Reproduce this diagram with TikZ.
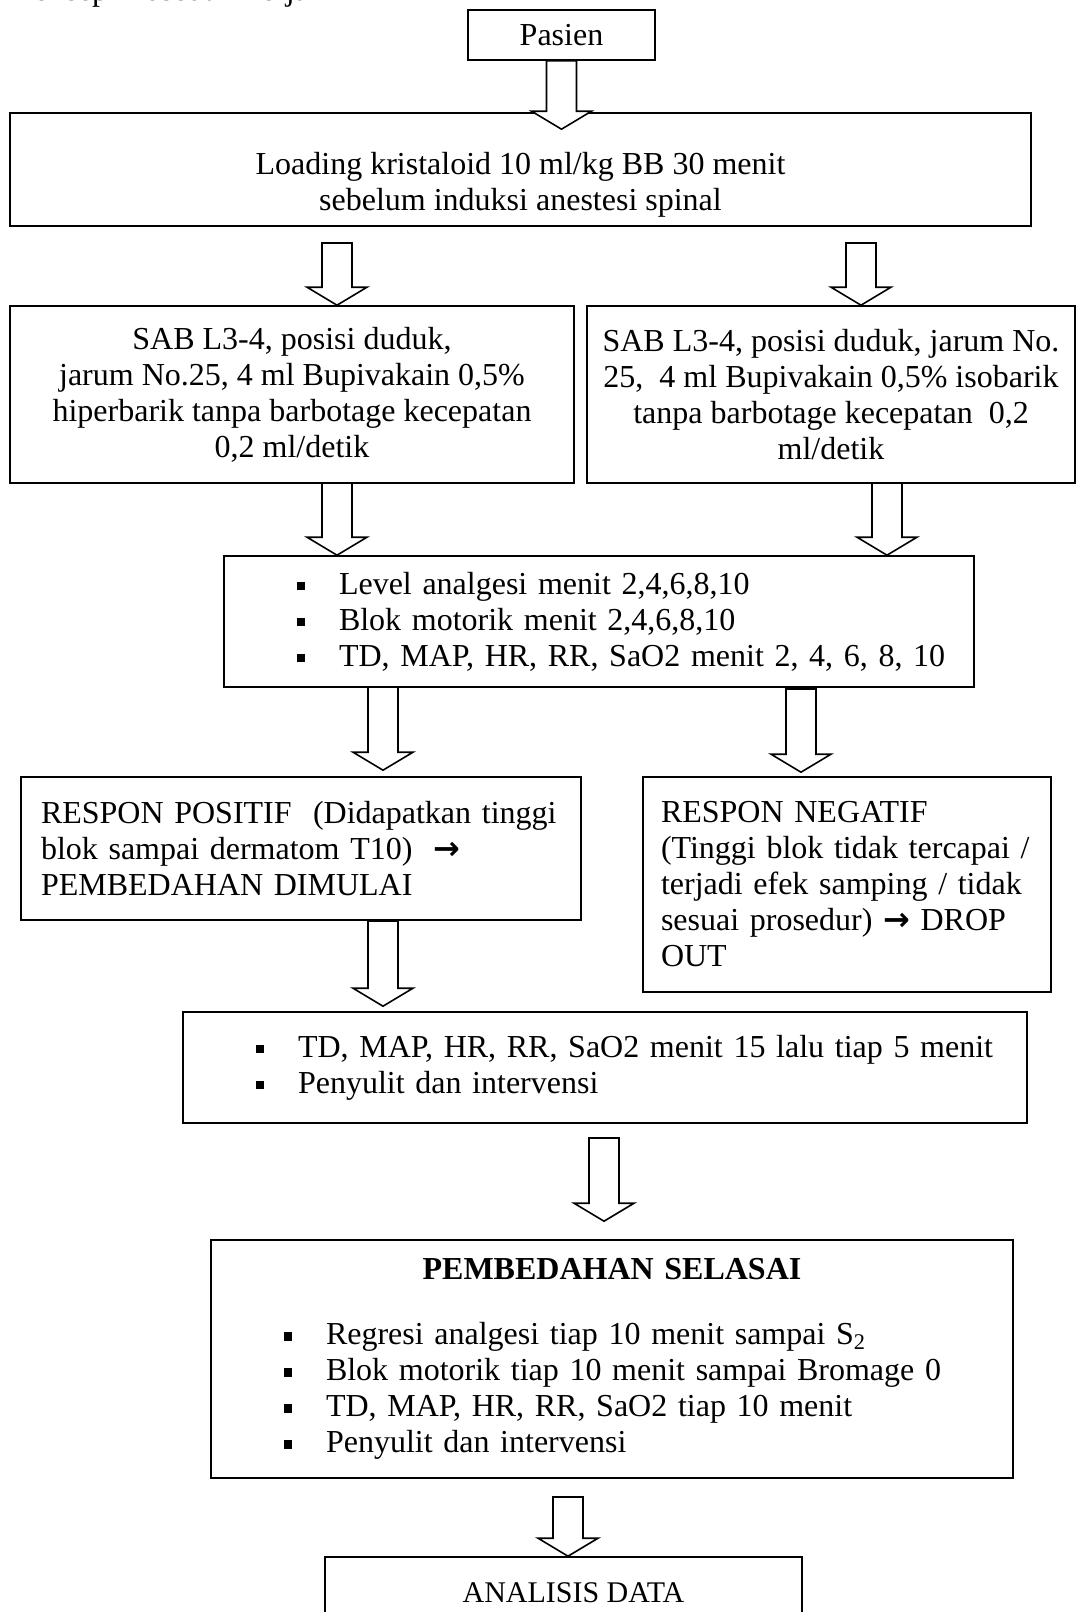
\documentclass[tikz,border=0pt]{standalone}
\usepackage{fontspec}
\setmainfont{Liberation Serif}
\newfontfamily\symfont{DejaVu Sans}
\usepackage{tikz}
\usetikzlibrary{calc}

\newcommand{\itm}{\hspace*{32.5pt}\makebox[21pt][l]{\rule[2pt]{4.2pt}{4.2pt}}}
\newcommand{\rarr}{{\symfont\bfseries →}}

\begin{document}
\begin{tikzpicture}[
      x=0.5pt, y=-0.5pt,
      box/.style={draw, line width=0.8pt, fill=white, inner sep=0pt,
        font=\fontsize{16}{18}\selectfont},
      midbox/.style={box, align=center},
      listbox/.style={box, align=left, inner xsep=4pt},
      blockarrow/.style={draw, line width=0.8pt, fill=white,
        to path={let \p1=(\tikztostart), \p2=(\tikztotarget) in
          (\x1-7.5pt,\y1) -- (\x1-7.5pt,\y2+9pt) -- (\x1-15pt,\y2+9pt)
          -- (\x1,\y2) -- (\x1+15pt,\y2+9pt) -- (\x1+7.5pt,\y2+9pt)
          -- (\x1+7.5pt,\y1) -- cycle}}
    ]
    \useasboundingbox (0,0) rectangle (1084,1612);

    \node[anchor=base west, inner sep=0pt, font=\fontsize{16}{18}\selectfont]
      (judul) at (10,0) {Konsep Prosedur Kerja};

    \node[midbox, minimum width=93.5pt, minimum height=25pt]
      (pasien) at (561.5,35) {Pasien};
    \node[midbox, minimum width=510.5pt, minimum height=56.5pt]
      (loading) at (520.5,169.5)
      {\rule{0pt}{26pt}Loading kristaloid 10 ml/kg BB 30 menit\\
       sebelum induksi anestesi spinal};

    \node[midbox, minimum width=282pt, minimum height=88.5pt]
      (sabl) at (292,394.5)
      {SAB L3-4, posisi duduk,\\
       jarum No.25, 4 ml Bupivakain 0,5\%\\
       hiperbarik tanpa barbotage kecepatan\\
       0,2 ml/detik};
    \node[midbox, minimum width=244pt, minimum height=88.5pt]
      (sabr) at (831,394.5)
      {SAB L3-4, posisi duduk, jarum No.\\
       25,~ 4 ml Bupivakain 0,5\% isobarik\\
       tanpa barbotage kecepatan~ 0,2\\
       ml/detik};

    \node[listbox, text width=367pt, minimum height=65.5pt]
      (mon1) at (599,621.5)
      {\itm Level analgesi menit 2,4,6,8,10\\
       \itm Blok motorik menit 2,4,6,8,10\\
       \itm TD, MAP, HR, RR, SaO2 menit 2, 4, 6, 8, 10};

    \node[box, align=left, inner xsep=10pt, text width=260pt,
      minimum height=71.5pt]
      (pos) at (301,848.5)
      {RESPON POSITIF~ (Didapatkan tinggi\\
       blok sampai dermatom T10)~~\rarr\\
       PEMBEDAHAN DIMULAI};
    \node[box, align=left, inner xsep=9pt, text width=186pt,
      minimum height=107.5pt]
      (neg) at (847,884.5)
      {RESPON NEGATIF\\
       (Tinggi blok tidak tercapai /\\
       terjadi efek samping / tidak\\
       sesuai prosedur) \rarr{} DROP\\
       OUT};

    \node[listbox, text width=414pt, minimum height=55.5pt]
      (mon2) at (605,1067.5)
      {\itm TD, MAP, HR, RR, SaO2 menit 15 lalu tiap 5 menit\\
       \itm Penyulit dan intervensi};

    \node[listbox, text width=393pt, minimum height=119pt]
      (mon3) at (612,1359)
      {\makebox[393pt]{\bfseries PEMBEDAHAN SELASAI}\\[14.5pt]
       \itm Regresi analgesi tiap 10 menit sampai S\textsubscript{2}\\
       \itm Blok motorik tiap 10 menit sampai Bromage 0\\
       \itm TD, MAP, HR, RR, SaO2 tiap 10 menit\\
       \itm Penyulit dan intervensi};

    \node[midbox, minimum width=238.5pt, minimum height=36pt,
      font=\fontsize{15}{18}\selectfont]
      (analisis) at (563.5,1593) {\hspace*{10pt}ANALISIS DATA};

    \coordinate (a2l) at (337,243);
    \coordinate (a2r) at (861,243);
    \coordinate (a3l) at (337,483);
    \coordinate (a3r) at (887,483);
    \coordinate (a4l) at (383,687);
    \coordinate (a4r) at (801,689);
    \coordinate (a5) at (383,921);
    \coordinate (a6) at (604,1138);
    \coordinate (a7) at (568,1497);

    \draw[blockarrow] (pasien.south) to ([yshift=-8.5pt]loading.north);
    \draw[blockarrow] (a2l) to (sabl.north);
    \draw[blockarrow] (a2r) to (sabr.north);
    \draw[blockarrow] (a3l) to (mon1.north);
    \draw[blockarrow] (a3r) to (mon1.north);
    \draw[blockarrow] (a4l) to ([yshift=3pt]pos.north);
    \draw[blockarrow] (a4r) to ([yshift=2pt]neg.north);
    \draw[blockarrow] (a5) to ([yshift=2.5pt]mon2.north);
    \draw[blockarrow] (a6) to ([yshift=9pt]mon3.north);
    \draw[blockarrow] (a7) to (analisis.north);
  \end{tikzpicture}
\end{document}
